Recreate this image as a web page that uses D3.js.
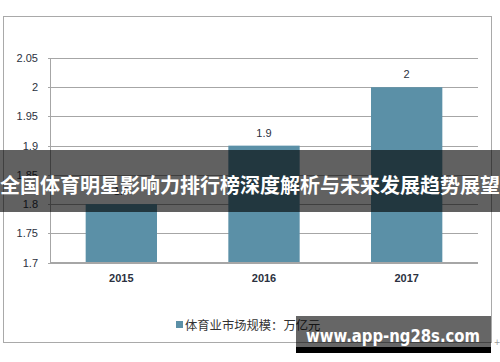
<!DOCTYPE html>
<html>
<head>
<meta charset="utf-8">
<script src="https://cdn.jsdelivr.net/npm/d3@7"></script>
<style>
  body { margin: 0; background: #fff; }
  svg { display: block; }
  .axis path { display: none; }
</style>
</head>
<body>
<svg id="chart"></svg>
<script>
// Chart data
var years = ["2015", "2016", "2017"];
var values = [1.8, 1.9, 2];
var yTicks = [1.7, 1.75, 1.8, 1.85, 1.9, 1.95, 2, 2.05];
var seriesName = "体育业市场规模：万亿元";
var bannerText = "全国体育明星影响力排行榜深度解析与未来发展趋势展望";
var watermark = "www.app-ng28s.com";

var width = 500, height = 362;
var plot = {left: 50, right: 478, top: 58, bottom: 262.5};

var svg = d3.select("#chart")
    .attr("width", width)
    .attr("height", height);

// Outer chart frame
svg.append("rect")
    .attr("x", 3.5).attr("y", 16.5)
    .attr("width", 488).attr("height", 326)
    .attr("fill", "#fff")
    .attr("stroke", "#a9a9a9");

// Scales
var x = d3.scaleBand()
    .domain(years)
    .range([plot.left, plot.right])
    .paddingInner(0.5)
    .paddingOuter(0.25);

var y = d3.scaleLinear()
    .domain([1.7, 2.05])
    .range([plot.bottom, plot.top]);

// Gridlines
svg.append("g")
    .attr("class", "axis")
    .attr("transform", "translate(" + plot.left + ",0)")
    .call(d3.axisLeft(y).tickValues(yTicks).tickSize(-(plot.right - plot.left)).tickFormat(""))
    .selectAll("line")
    .attr("stroke", "#a6a6a6")
    .attr("shape-rendering", "crispEdges");

// Y axis line
svg.append("line")
    .attr("x1", plot.left).attr("x2", plot.left)
    .attr("y1", y(2.05)).attr("y2", y(1.7))
    .attr("stroke", "#a6a6a6")
    .attr("shape-rendering", "crispEdges");

// Y axis labels
var yAxis = svg.append("g")
    .attr("class", "axis")
    .attr("transform", "translate(" + plot.left + ",0)")
    .call(d3.axisLeft(y).tickValues(yTicks).tickSize(2).tickPadding(10).tickFormat(d3.format("")));
yAxis.selectAll("line").attr("stroke", "#a6a6a6").attr("shape-rendering", "crispEdges");
yAxis.selectAll("text")
    .attr("font-family", "Liberation Sans, Arial, sans-serif")
    .attr("font-size", 11)
    .attr("fill", "#2b3140");

// Bars
svg.selectAll(".bar")
    .data(values)
  .enter().append("rect")
    .attr("class", "bar")
    .attr("x", function(d, i) { return x(years[i]); })
    .attr("y", function(d) { return y(d); })
    .attr("width", x.bandwidth())
    .attr("height", function(d) { return y(1.7) - y(d); })
    .attr("fill", "#5b90a7");

// Data labels
svg.selectAll(".val")
    .data(values)
  .enter().append("text")
    .attr("class", "val")
    .attr("x", function(d, i) { return x(years[i]) + x.bandwidth() / 2; })
    .attr("y", function(d) { return y(d) - 9; })
    .attr("text-anchor", "middle")
    .attr("font-family", "Liberation Sans, Arial, sans-serif")
    .attr("font-size", 11)
    .attr("fill", "#2b3140")
    .text(function(d) { return d; });

// X axis labels
var xAxis = svg.append("g")
    .attr("class", "axis")
    .attr("transform", "translate(0," + plot.bottom + ")")
    .call(d3.axisBottom(x).tickSize(0).tickPadding(12));
xAxis.selectAll("text")
    .attr("font-family", "Liberation Sans, Arial, sans-serif")
    .attr("font-size", 11)
    .attr("font-weight", "bold")
    .attr("fill", "#2b3140");

// X axis line
svg.append("line")
    .attr("x1", plot.left).attr("x2", plot.right)
    .attr("y1", y(1.7)).attr("y2", y(1.7))
    .attr("stroke", "#a6a6a6")
    .attr("shape-rendering", "crispEdges");

// Legend
svg.append("rect")
    .attr("x", 176).attr("y", 321)
    .attr("width", 7).attr("height", 7)
    .attr("fill", "#5b90a7");
svg.append("text")
    .attr("x", 185).attr("y", 324.5)
    .attr("dominant-baseline", "central")
    .attr("font-family", "Noto Sans CJK SC, sans-serif")
    .attr("font-size", 12.3)
    .attr("fill", "#333")
    .text(seriesName);

// Anchor mark
svg.append("text")
    .attr("x", 497).attr("y", 345)
    .attr("text-anchor", "middle")
    .attr("font-family", "DejaVu Sans, sans-serif")
    .attr("font-size", 8)
    .attr("fill", "#999")
    .text("+");

// Banner overlay
svg.append("rect")
    .attr("x", 0).attr("y", 150)
    .attr("width", width).attr("height", 62)
    .attr("fill", "rgba(0,0,0,0.62)");
svg.append("text")
    .attr("x", 250).attr("y", 184)
    .attr("text-anchor", "middle")
    .attr("dominant-baseline", "central")
    .attr("font-family", "Noto Sans CJK SC, sans-serif")
    .attr("font-size", 20)
    .attr("font-weight", "bold")
    .attr("fill", "#fff")
    .text(bannerText);

// Watermark
svg.append("rect")
    .attr("x", 296).attr("y", 316)
    .attr("width", 195).attr("height", 31)
    .attr("fill", "rgba(0,0,0,0.6)");
svg.append("rect")
    .attr("x", 296).attr("y", 347)
    .attr("width", 195).attr("height", 6)
    .attr("fill", "#000");
svg.append("text")
    .attr("x", 306).attr("y", 342)
    .attr("font-family", "DejaVu Sans, sans-serif")
    .attr("font-size", 17)
    .attr("font-weight", "bold")
    .attr("textLength", 174)
    .attr("lengthAdjust", "spacingAndGlyphs")
    .attr("fill", "#fff")
    .text(watermark);
</script>
</body>
</html>
